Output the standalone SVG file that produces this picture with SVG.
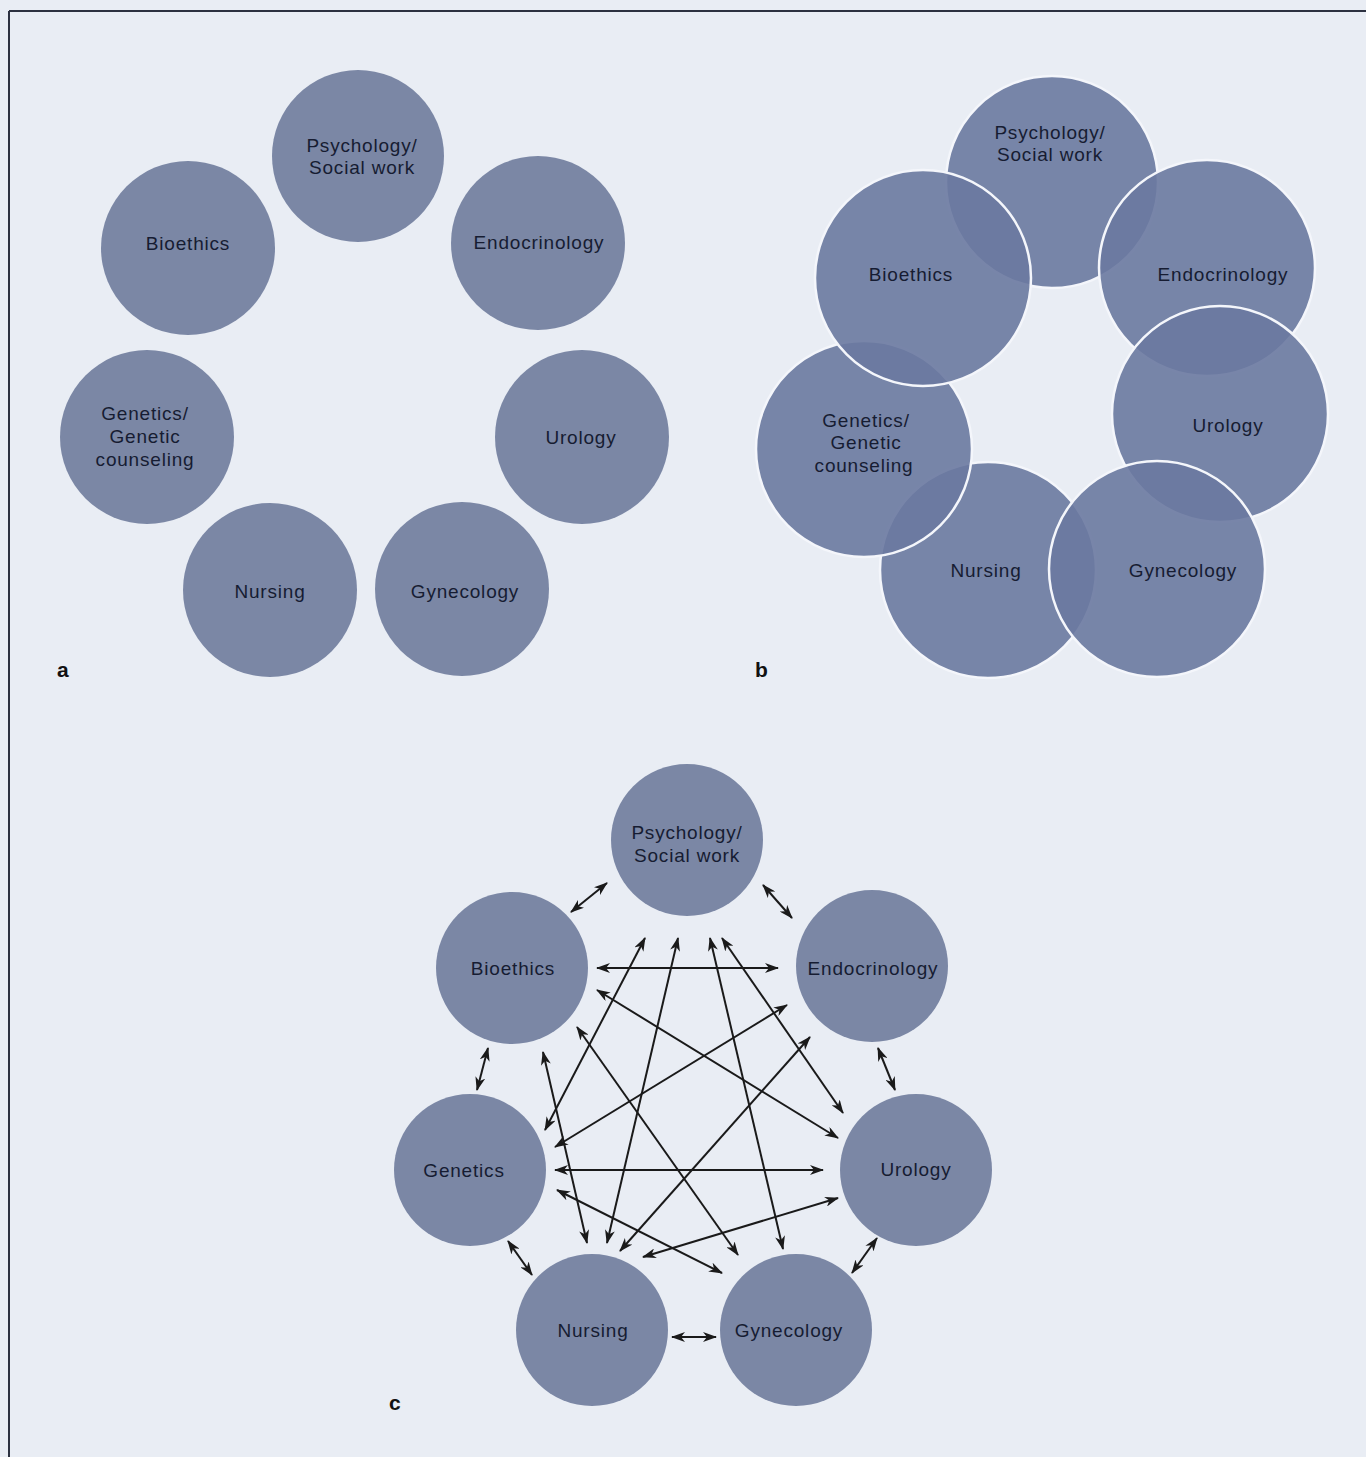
<svg xmlns="http://www.w3.org/2000/svg" width="1366" height="1457" viewBox="0 0 1366 1457">
  <defs>
    <style>
      .node { fill: #7b87a5; }
      .ov { fill: #6a79a0; fill-opacity: 0.9; stroke: #f4f6fb; stroke-width: 2.5; }
      .lbl { font-family: "Liberation Sans", "Open Sans", sans-serif; font-size: 19px; letter-spacing: 0.8px; fill: #161c32; text-anchor: middle; }
      .tag { font-family: "Liberation Sans", "Open Sans", sans-serif; font-size: 21px; font-weight: bold; fill: #111; }
      .edge { stroke: #1a1a1a; stroke-width: 2; fill: none; marker-start: url(#head); marker-end: url(#head); }
    </style>
    <marker id="head" viewBox="0 0 14 10" refX="13" refY="5" markerWidth="14" markerHeight="10" markerUnits="userSpaceOnUse" orient="auto-start-reverse">
      <path d="M0,0 L14,5 L0,10 L4,5 z" fill="#1a1a1a"/>
    </marker>
  </defs>

  <!-- page -->
  <rect width="1366" height="1457" fill="#e9edf4"/>
  <path d="M9,11 H1366 M9,11 V1457" stroke="#2c3140" stroke-width="2" fill="none"/>

  <!-- panel a: separate disciplines -->
  <g id="panel-a">
    <g id="a-psychology"><circle class="node" cx="358" cy="156" r="86"/><text class="lbl" x="362" y="152">Psychology/<tspan x="362" dy="22">Social work</tspan></text></g>
    <g id="a-bioethics"><circle class="node" cx="188" cy="248" r="87"/><text class="lbl" x="188" y="250">Bioethics</text></g>
    <g id="a-endocrinology"><circle class="node" cx="538" cy="243" r="87"/><text class="lbl" x="539" y="249">Endocrinology</text></g>
    <g id="a-genetics"><circle class="node" cx="147" cy="437" r="87"/><text class="lbl" x="145" y="420">Genetics/<tspan x="145" dy="23">Genetic</tspan><tspan x="145" dy="23">counseling</tspan></text></g>
    <g id="a-urology"><circle class="node" cx="582" cy="437" r="87"/><text class="lbl" x="581" y="444">Urology</text></g>
    <g id="a-nursing"><circle class="node" cx="270" cy="590" r="87"/><text class="lbl" x="270" y="598">Nursing</text></g>
    <g id="a-gynecology"><circle class="node" cx="462" cy="589" r="87"/><text class="lbl" x="465" y="598">Gynecology</text></g>
    <text class="tag" x="57" y="677">a</text>
  </g>

  <!-- panel b: overlapping disciplines -->
  <g id="panel-b">
    <g id="b-psychology"><circle class="ov" cx="1052" cy="182" r="106"/></g>
    <g id="b-nursing"><circle class="ov" cx="988" cy="570" r="108"/></g>
    <g id="b-endocrinology"><circle class="ov" cx="1207" cy="268" r="108"/></g>
    <g id="b-urology"><circle class="ov" cx="1220" cy="414" r="108"/></g>
    <g id="b-gynecology"><circle class="ov" cx="1157" cy="569" r="108"/></g>
    <g id="b-genetics"><circle class="ov" cx="864" cy="449" r="108"/></g>
    <g id="b-bioethics"><circle class="ov" cx="923" cy="278" r="108"/></g>
    <g id="b-labels">
      <text class="lbl" x="1050" y="139">Psychology/<tspan x="1050" dy="22">Social work</tspan></text>
      <text class="lbl" x="911" y="281">Bioethics</text>
      <text class="lbl" x="1223" y="281">Endocrinology</text>
      <text class="lbl" x="866" y="427">Genetics/<tspan x="866" dy="22">Genetic</tspan><tspan x="864" dy="23">counseling</tspan></text>
      <text class="lbl" x="1228" y="432">Urology</text>
      <text class="lbl" x="986" y="577">Nursing</text>
      <text class="lbl" x="1183" y="577">Gynecology</text>
    </g>
    <text class="tag" x="755" y="677">b</text>
  </g>

  <!-- panel c: every discipline linked to the others -->
  <g id="panel-c">
    <g id="c-psychology"><circle class="node" cx="687" cy="840" r="76"/><text class="lbl" x="687" y="839">Psychology/<tspan x="687" dy="23">Social work</tspan></text></g>
    <g id="c-bioethics"><circle class="node" cx="512" cy="968" r="76"/><text class="lbl" x="513" y="975">Bioethics</text></g>
    <g id="c-endocrinology"><circle class="node" cx="872" cy="966" r="76"/><text class="lbl" x="873" y="975">Endocrinology</text></g>
    <g id="c-genetics"><circle class="node" cx="470" cy="1170" r="76"/><text class="lbl" x="464" y="1177">Genetics</text></g>
    <g id="c-urology"><circle class="node" cx="916" cy="1170" r="76"/><text class="lbl" x="916" y="1176">Urology</text></g>
    <g id="c-nursing"><circle class="node" cx="592" cy="1330" r="76"/><text class="lbl" x="593" y="1337">Nursing</text></g>
    <g id="c-gynecology"><circle class="node" cx="796" cy="1330" r="76"/><text class="lbl" x="789" y="1337">Gynecology</text></g>

    <g id="connectors">
      <!-- neighbours on the ring -->
      <line class="edge" x1="607" y1="883" x2="571" y2="912"/>
      <line class="edge" x1="763" y1="885" x2="792" y2="918"/>
      <line class="edge" x1="488" y1="1048" x2="477" y2="1090"/>
      <line class="edge" x1="878" y1="1048" x2="895" y2="1090"/>
      <line class="edge" x1="508" y1="1241" x2="532" y2="1275"/>
      <line class="edge" x1="877" y1="1238" x2="852" y2="1273"/>
      <line class="edge" x1="672" y1="1337" x2="716" y2="1337"/>
      <!-- chords -->
      <line class="edge" x1="597" y1="968" x2="778" y2="968"/>
      <line class="edge" x1="555" y1="1170" x2="823" y2="1170"/>
      <line class="edge" x1="645" y1="938" x2="545" y2="1130"/>
      <line class="edge" x1="678" y1="938" x2="607" y2="1243"/>
      <line class="edge" x1="710" y1="938" x2="783" y2="1249"/>
      <line class="edge" x1="722" y1="938" x2="843" y2="1113"/>
      <line class="edge" x1="597" y1="990" x2="838" y2="1138"/>
      <line class="edge" x1="577" y1="1027" x2="738" y2="1255"/>
      <line class="edge" x1="543" y1="1052" x2="587" y2="1243"/>
      <line class="edge" x1="787" y1="1005" x2="555" y2="1147"/>
      <line class="edge" x1="810" y1="1037" x2="620" y2="1251"/>
      <line class="edge" x1="557" y1="1190" x2="722" y2="1273"/>
      <line class="edge" x1="838" y1="1198" x2="643" y2="1257"/>
    </g>
    <text class="tag" x="389" y="1410">c</text>
  </g>
</svg>
